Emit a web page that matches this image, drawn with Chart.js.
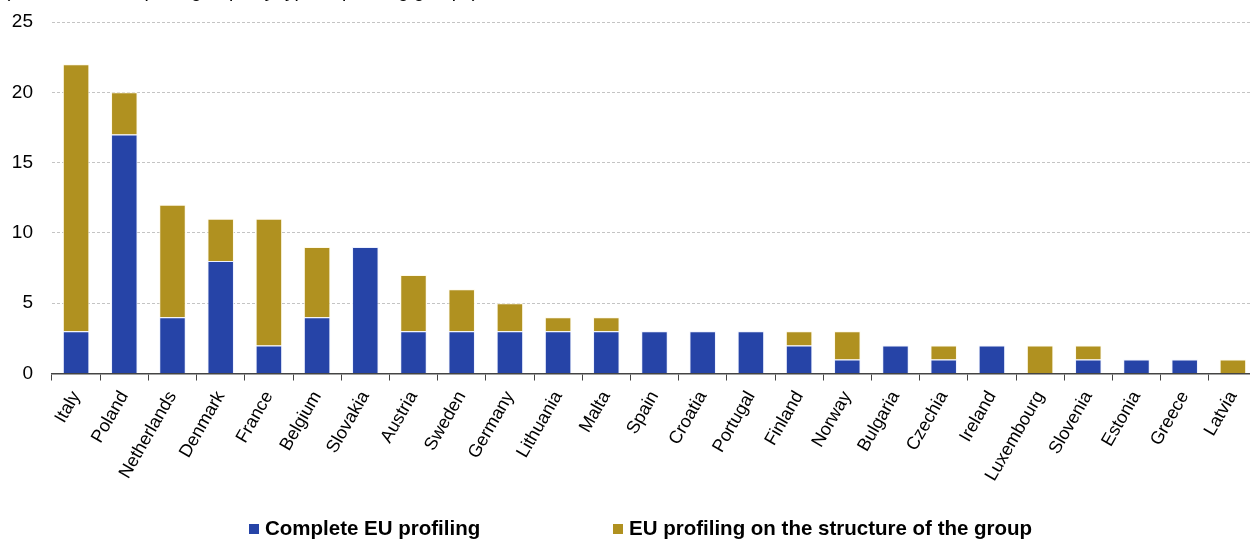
<!DOCTYPE html>
<html>
<head>
<meta charset="utf-8">
<script src="https://cdn.jsdelivr.net/npm/chart.js@4/dist/chart.umd.min.js"></script>
<style>
  html, body { margin: 0; padding: 0; background: #fff; overflow: hidden; width: 1250px; height: 539px; }
  #wrap { position: relative; width: 1260px; height: 539px; }
  #title { position: absolute; left: 4px; top: -20px; font: 19px "Liberation Sans", Arial, sans-serif; color: #000; white-space: nowrap; }
  .lg { position: absolute; top: 516px; font: bold 20.5px "Liberation Sans", Arial, sans-serif; color: #000; white-space: nowrap; line-height: 24px; }
  .lg i { display: inline-block; width: 10px; height: 10px; margin-right: 6px; vertical-align: 1px; }
</style>
</head>
<body>
<div id="wrap">
  <div id="title">(number of enterprise groups by type of profiling groups)</div>
  <canvas id="c" width="1260" height="539"></canvas>
  <div id="legend"></div>
</div>
<script>
const categories = ["Italy","Poland","Netherlands","Denmark","France","Belgium","Slovakia","Austria","Sweden","Germany","Lithuania","Malta","Spain","Croatia","Portugal","Finland","Norway","Bulgaria","Czechia","Ireland","Luxembourg","Slovenia","Estonia","Greece","Latvia"];
const completeProfiling = [3,17,4,8,2,4,9,3,3,3,3,3,3,3,3,2,1,2,1,2,0,1,1,1,0];
const structureProfiling = [19,3,8,3,9,5,0,4,3,2,1,1,0,0,0,1,2,0,1,0,2,1,0,0,1];
const seriesNames = ["Complete EU profiling", "EU profiling on the structure of the group"];
const seriesColors = ['#2644A7', '#B09120'];
const yTicks = [0,5,10,15,20,25];

const FONT = '"Liberation Sans", Arial, sans-serif';
const chart = new Chart(document.getElementById('c'), {
  type: 'bar',
  data: {
    labels: categories,
    datasets: [
      { label: seriesNames[0], data: completeProfiling, backgroundColor: seriesColors[0], borderColor: 'rgba(235,240,255,0.9)', borderWidth: 1, barPercentage: 0.55, categoryPercentage: 1 },
      { label: seriesNames[1], data: structureProfiling, backgroundColor: seriesColors[1], borderColor: 'rgba(255,250,230,0.9)', borderWidth: 1, barPercentage: 0.55, categoryPercentage: 1 }
    ]
  },
  options: {
    responsive: false,
    animation: false,
    layout: { padding: { top: 22, right: 3, left: 0, bottom: 47 } },
    plugins: {
      title: { display: false },
      tooltip: { enabled: false },
      legend: { display: false }
    },
    scales: {
      x: {
        stacked: true,
        offset: true,
        grid: { display: true, drawOnChartArea: false, drawTicks: true, tickLength: 7, color: '#444', offset: true },
        border: { display: true, color: '#444', width: 1.5 },
        ticks: { color: '#000', font: { family: FONT, size: 18 }, minRotation: 60, maxRotation: 60, autoSkip: false, padding: 7 }
      },
      y: {
        stacked: true,
        min: 0, max: 25,
        afterBuildTicks: (s) => { s.ticks = yTicks.map(v => ({ value: v })); },
        afterFit: (s) => { s.width = 52; s.paddingTop = 0; s.paddingBottom = 0; },
        grid: {
          drawTicks: false,
          color: (ctx) => ctx.tick && ctx.tick.value === 0 ? 'rgba(0,0,0,0)' : '#c4c4c4',
          lineWidth: 1
        },
        border: { display: false, dash: [3, 2] },
        ticks: { color: '#000', font: { family: FONT, size: 19 }, padding: 19 }
      }
    }
  }
});

// HTML legend built from the datasets
const legendX = [249, 613];
const lg = document.getElementById('legend');
chart.data.datasets.forEach((ds, i) => {
  const d = document.createElement('div');
  d.className = 'lg';
  d.style.left = legendX[i] + 'px';
  d.innerHTML = '<i style="background:' + ds.backgroundColor + '"></i>' + ds.label;
  lg.appendChild(d);
});
</script>
</body>
</html>
